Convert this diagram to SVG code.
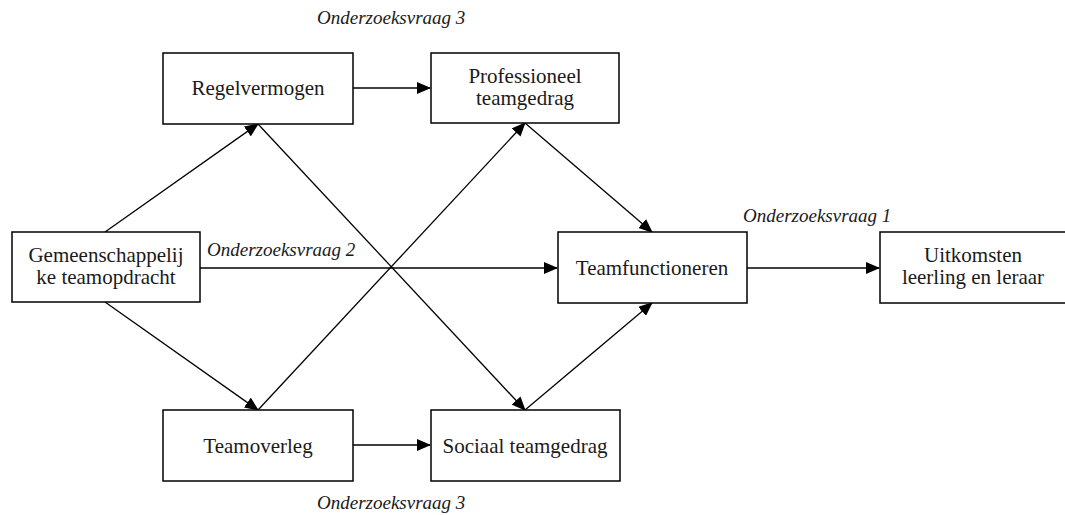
<svg xmlns="http://www.w3.org/2000/svg" width="1065" height="515" viewBox="0 0 1065 515">
<style>
.box{fill:#fff;stroke:#000;stroke-width:1.5}
.t{font-family:"Liberation Serif","Times New Roman",serif;font-size:21px;fill:#1a1a1a;text-anchor:middle}
.q{font-family:"Liberation Serif","Times New Roman",serif;font-size:19px;font-style:italic;fill:#1a1a1a}
.c{stroke:#000;stroke-width:1.3;fill:none;marker-end:url(#ah)}
.n{stroke:#000;stroke-width:1.3;fill:none}
</style>
<defs>
<marker id="ah" markerUnits="userSpaceOnUse" markerWidth="14" markerHeight="12" viewBox="0 0 14 12" refX="13" refY="6" orient="auto">
<path d="M0,0 L14,6 L0,12 Z" fill="#000"/>
</marker>
</defs>
<g id="connectors">
<line class="c" x1="353" y1="88" x2="430" y2="88"/>
<line class="c" x1="105" y1="232" x2="258" y2="124"/>
<line class="c" x1="105" y1="302" x2="258" y2="410"/>
<line class="c" x1="258" y1="124" x2="525" y2="410"/>
<line class="c" x1="258" y1="410" x2="525" y2="123"/>
<line class="c" x1="200" y1="268" x2="557" y2="268"/>
<line class="c" x1="525" y1="123" x2="652" y2="232"/>
<line class="c" x1="525" y1="410" x2="652" y2="303"/>
<line class="c" x1="353" y1="445" x2="430" y2="445"/>
<line class="c" x1="747" y1="268" x2="879" y2="268"/>
</g>
<g id="regelvermogen">
<rect class="box" x="163" y="53" width="190" height="71"/>
<text class="t" x="258" y="95">Regelvermogen</text>
</g>
<g id="professioneel">
<rect class="box" x="431" y="53" width="188" height="70"/>
<text class="t" x="525" y="83">Professioneel</text>
<text class="t" x="525" y="105">teamgedrag</text>
</g>
<g id="gemeenschappelijk">
<rect class="box" x="12" y="232" width="188" height="70"/>
<text class="t" x="106" y="262">Gemeenschappelij</text>
<text class="t" x="106" y="284">ke teamopdracht</text>
</g>
<g id="teamfunctioneren">
<rect class="box" x="558" y="232" width="189" height="71"/>
<text class="t" x="652" y="275">Teamfunctioneren</text>
</g>
<g id="uitkomsten">
<rect class="box" x="880" y="232" width="189" height="71"/>
<text class="t" x="973" y="262">Uitkomsten</text>
<text class="t" x="973" y="284">leerling en leraar</text>
</g>
<g id="teamoverleg">
<rect class="box" x="163" y="410" width="190" height="71"/>
<text class="t" x="258" y="453">Teamoverleg</text>
</g>
<g id="sociaal">
<rect class="box" x="431" y="410" width="189" height="71"/>
<text class="t" x="525" y="453">Sociaal teamgedrag</text>
</g>
<g id="labels">
<text class="q" x="317" y="24">Onderzoeksvraag 3</text>
<text class="q" x="207" y="256">Onderzoeksvraag 2</text>
<text class="q" x="743" y="222">Onderzoeksvraag 1</text>
<text class="q" x="317" y="509">Onderzoeksvraag 3</text>
</g>
</svg>
